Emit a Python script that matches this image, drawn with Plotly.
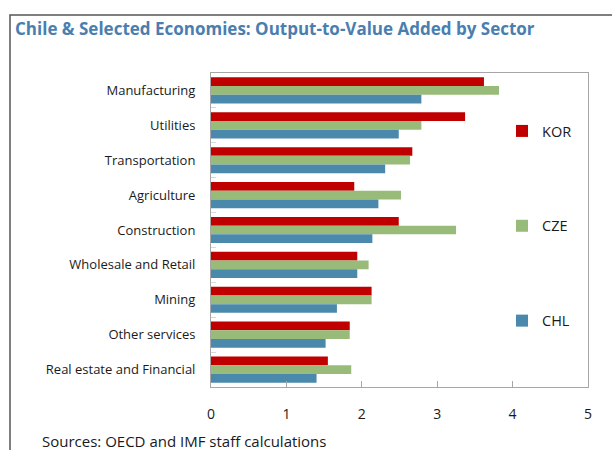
import plotly.graph_objects as go

categories = ["Manufacturing", "Utilities", "Transportation", "Agriculture", "Construction",
              "Wholesale and Retail", "Mining", "Other services", "Real estate and Financial"]
kor = [3.62, 3.37, 2.67, 1.90, 2.49, 1.94, 2.13, 1.84, 1.55]
cze = [3.82, 2.79, 2.64, 2.52, 3.25, 2.09, 2.13, 1.84, 1.86]
chl = [2.79, 2.49, 2.31, 2.22, 2.14, 1.94, 1.67, 1.52, 1.40]
x_ticks = [0, 1, 2, 3, 4, 5]

W, H = 612, 450
L, R, T, B = 211, 24, 73, 63
pw, ph = W - L - R, H - T - B

def px_x(x):
    return (x - L) / pw

def px_y(y):
    return (H - B - y) / ph

series = [("KOR", kor, "#C00000"), ("CZE", cze, "#98BB7A"), ("CHL", chl, "#4A89AC")]

fig = go.Figure()
for i, (name, vals, col) in enumerate(series):
    fig.add_trace(go.Bar(
        y=categories, x=vals, name=name, orientation="h",
        marker=dict(color=col, line=dict(width=0)),
        legendgroup=name,
    ))

font_family = "Open Sans"
fig.update_layout(
    width=W, height=H,
    margin=dict(l=L, r=R, t=T, b=B),
    paper_bgcolor="white", plot_bgcolor="white",
    barmode="group", bargap=0.25, bargroupgap=0,
    font=dict(family=font_family, color="#1a1a1a"),
    title=dict(
        text="<b>Chile & Selected Economies: Output-to-Value Added by Sector</b>",
        font=dict(family=font_family, size=17, color="#4A7EAF"),
        xref="container", yref="container", x=15 / W, xanchor="left",
        y=1 - 29.5 / H, yanchor="middle",
    ),
    xaxis=dict(
        range=[0, 5], tickvals=x_ticks, ticks="inside", ticklen=6, tickcolor="#a6a6a6",
        showline=True, linecolor="#a6a6a6", linewidth=1, mirror=True,
        showgrid=False, zeroline=False, tickfont=dict(size=14, color="#1a1a1a"),
        ticklabelstandoff=14, fixedrange=True,
    ),
    yaxis=dict(
        type="category", autorange="reversed", ticks="inside", tickson="boundaries",
        ticklen=5, tickcolor="#d9d9d9", showline=True, linecolor="#a6a6a6", linewidth=1,
        mirror=True, showgrid=False, tickfont=dict(size=13, color="#1a1a1a"),
        ticklabelstandoff=12,
    ),
    legend=dict(
        x=px_x(502), xanchor="left", y=px_y(115), yanchor="top",
        tracegroupgap=73, font=dict(size=14.5, color="#1a1a1a"),
        bgcolor="rgba(0,0,0,0)", borderwidth=0,
    ),
    showlegend=True,
)

fig.add_shape(type="rect", xref="paper", yref="paper",
              x0=px_x(10), x1=px_x(640), y0=px_y(15), y1=px_y(480),
              line=dict(color="#555555", width=1.5), fillcolor="rgba(0,0,0,0)")

fig.add_annotation(text="Sources: OECD and IMF staff calculations", xref="paper", yref="paper",
                   x=px_x(40), y=px_y(429), xanchor="left", yanchor="top", showarrow=False,
                   font=dict(size=15, color="#1a1a1a"))

fig.write_html("out.html")
